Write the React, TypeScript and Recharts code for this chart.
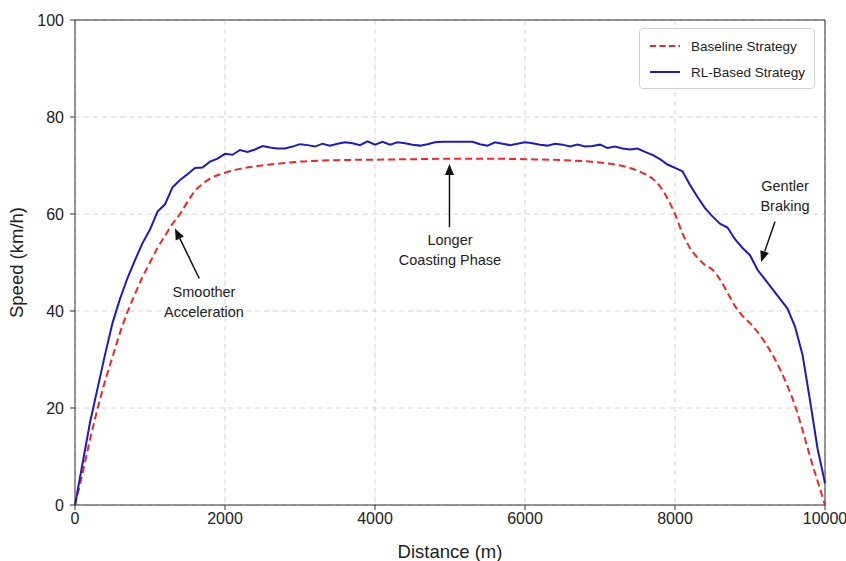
import React from "react";
import {
  LineChart,
  Line,
  XAxis,
  YAxis,
  CartesianGrid,
  ReferenceLine,
  ReferenceDot,
} from "recharts";

const FONT = "'Liberation Sans', Arial, sans-serif";

const xTicks = [0, 2000, 4000, 6000, 8000, 10000];
const yTicks = [0, 20, 40, 60, 80, 100];

const baselineDistance = [
  0, 100, 200, 300, 400, 500, 600, 700, 800, 900, 1000, 1100, 1200, 1300, 1400,
  1500, 1600, 1700, 1800, 1900, 2000, 2200, 2400, 2600, 2800, 3000, 3500, 4000,
  4500, 5000, 5500, 6000, 6500, 7000, 7200, 7400, 7600, 7700, 7800, 7900, 8000,
  8100, 8200, 8300, 8400, 8500, 8600, 8700, 8800, 8900, 9000, 9100, 9200, 9300,
  9400, 9500, 9600, 9700, 9800, 9900, 10000,
];
const baselineSpeed = [
  0, 6.5, 13.5, 19.8, 25.5, 30.5, 35.5, 39.8, 43.5, 47, 50, 53, 55.5, 58, 60,
  62.5, 64.8, 66.2, 67.3, 68, 68.5, 69.3, 69.8, 70.2, 70.5, 70.8, 71.1, 71.2,
  71.3, 71.4, 71.4, 71.3, 71.1, 70.6, 70.2, 69.5, 68.2, 67.3, 65.7, 63.2, 60,
  56, 53, 51, 49.5, 48.5, 46.5, 43.8, 41, 39, 37.5, 35.7, 33.5, 31, 28, 24.5,
  20.5, 15.5, 10, 5, 0,
];

const rlDistance = [
  0, 100, 200, 300, 400, 500, 600, 700, 800, 900, 1000, 1100, 1200, 1300, 1400,
  1500, 1600, 1700, 1800, 1900, 2000, 2100, 2200, 2300, 2400, 2500, 2600, 2700,
  2800, 2900, 3000, 3100, 3200, 3300, 3400, 3500, 3600, 3700, 3800, 3900, 4000,
  4100, 4200, 4300, 4400, 4500, 4600, 4700, 4800, 4900, 5000, 5100, 5200, 5300,
  5400, 5500, 5600, 5700, 5800, 5900, 6000, 6100, 6200, 6300, 6400, 6500, 6600,
  6700, 6800, 6900, 7000, 7100, 7200, 7300, 7400, 7500, 7600, 7700, 7800, 7900,
  8000, 8100, 8200, 8300, 8400, 8500, 8600, 8700, 8800, 8900, 9000, 9100, 9200,
  9300, 9400, 9500, 9600, 9700, 9800, 9900, 10000,
];
const rlSpeed = [
  0, 8.5, 17, 24, 31, 37.5, 42.5, 46.8, 50.5, 54, 56.8, 60.5, 62, 65.5, 67,
  68.2, 69.5, 69.6, 70.8, 71.4, 72.4, 72.2, 73.2, 72.8, 73.3, 74.0, 73.7, 73.5,
  73.5, 73.9, 74.4, 74.2, 73.9, 74.5, 74.1, 74.5, 74.8, 74.6, 74.2, 75.0, 74.3,
  74.9, 74.3, 74.8, 74.6, 74.3, 74.1, 74.4, 74.8, 74.9, 74.9, 74.9, 74.9, 74.9,
  74.4, 74.1, 74.8, 74.5, 74.2, 74.5, 74.8, 74.6, 74.3, 74.1, 74.5, 74.3, 73.9,
  74.3, 73.9, 74.0, 74.3, 73.6, 73.9, 73.5, 73.3, 73.5, 72.8, 72.2, 71.3, 70.2,
  69.5, 68.8, 66, 63.5, 61.2, 59.5, 58, 57.2, 54.8, 53, 51.5, 48.5, 46.5, 44.5,
  42.5, 40.5, 36.8, 31, 21.6, 11.7, 4.5,
];

const baselineData = baselineDistance.map((d, i) => ({ d, v: baselineSpeed[i] }));
const rlData = rlDistance.map((d, i) => ({ d, v: rlSpeed[i] }));

// annotation anchors in data units
const arrows = [
  { from: { x: 1657, y: 46.7 }, to: { x: 1333, y: 57.0 } },
  { from: { x: 4993, y: 57.3 }, to: { x: 4993, y: 70.3 } },
  { from: { x: 9333, y: 58.4 }, to: { x: 9147, y: 50.1 } },
];
const notes = [
  { x: 1720, y: 43.7, text: "Smoother" },
  { x: 1720, y: 39.6, text: "Acceleration" },
  { x: 5000, y: 54.4, text: "Longer" },
  { x: 5000, y: 50.3, text: "Coasting Phase" },
  { x: 9467, y: 65.6, text: "Gentler" },
  { x: 9467, y: 61.4, text: "Braking" },
];

const legendItems = [
  { name: "Baseline Strategy", color: "#ff2020", dash: "6 3.5" },
  { name: "RL-Based Strategy", color: "#1a1acc", dash: undefined },
];

const ArrowShape = (props: any) => {
  const { x1, y1, x2, y2 } = props;
  const ang = Math.atan2(y2 - y1, x2 - x1);
  const len = 11;
  const w = 4.5;
  const bx = x2 - len * Math.cos(ang);
  const by = y2 - len * Math.sin(ang);
  const px = -Math.sin(ang) * w;
  const py = Math.cos(ang) * w;
  return (
    <g>
      <line x1={x1} y1={y1} x2={bx} y2={by} stroke="#111" strokeWidth={1.5} />
      <polygon
        points={`${x2},${y2} ${bx + px},${by + py} ${bx - px},${by - py}`}
        fill="#111"
      />
    </g>
  );
};

const NoteShape = (text: string) => (props: any) => (
  <text
    x={props.cx}
    y={props.cy}
    textAnchor="middle"
    dominantBaseline="middle"
    fontFamily={FONT}
    fontSize={14.5}
    fill="#222"
  >
    {text}
  </text>
);

const LegendBox = () => (
  <div
    style={{
      position: "absolute",
      left: 639,
      top: 28,
      width: 176,
      height: 61,
      border: "1px solid #d0d0d0",
      borderRadius: 4,
      background: "rgba(255,255,255,0.9)",
      padding: "4px 10px",
      fontFamily: FONT,
      fontSize: 13.5,
      color: "#222",
      boxSizing: "border-box",
    }}
  >
    {legendItems.map((e) => (
      <div key={e.name} style={{ display: "flex", alignItems: "center", height: 26, whiteSpace: "nowrap" }}>
        <svg width={30} height={10} style={{ marginRight: 11, flexShrink: 0 }}>
          <line x1={0} y1={5} x2={30} y2={5} stroke={e.color} strokeWidth={2} strokeDasharray={e.dash} />
        </svg>
        <span>{e.name}</span>
      </div>
    ))}
  </div>
);

export default function App() {
  return (
    <div style={{ position: "absolute", left: 0, top: 0, width: 846, height: 561, background: "#fff" }}>
      <LineChart width={846} height={561} margin={{ top: 20, right: 21, bottom: 0, left: 0 }}>
        <CartesianGrid stroke="#d4d4d4" strokeDasharray="5 4" />
        <XAxis
          dataKey="d"
          type="number"
          domain={[0, 10000]}
          ticks={xTicks}
          allowDuplicatedCategory={false}
          height={56}
          tickSize={5}
          tickMargin={3}
          stroke="#333"
          tick={{ fontSize: 16, fill: "#222", fontFamily: FONT }}
          label={{
            value: "Distance (m)",
            position: "insideBottom",
            offset: 3,
            style: { fontSize: 18.5, fill: "#222", fontFamily: FONT },
          }}
        />
        <YAxis
          type="number"
          domain={[0, 100]}
          ticks={yTicks}
          width={75}
          tickSize={5}
          tickMargin={6}
          stroke="#333"
          tick={{ fontSize: 16, fill: "#222", fontFamily: FONT }}
          label={{
            value: "Speed (km/h)",
            angle: -90,
            position: "insideLeft",
            offset: 16,
            style: { fontSize: 18.5, fill: "#222", fontFamily: FONT, textAnchor: "middle" },
          }}
        />
        <ReferenceLine y={100} stroke="#333" strokeWidth={1} />
        <ReferenceLine x={10000} stroke="#333" strokeWidth={1} />
        <Line
          data={baselineData}
          dataKey="v"
          name="Baseline Strategy"
          type="monotone"
          stroke="#ff2020"
          strokeWidth={2}
          strokeDasharray="7 4"
          dot={false}
          isAnimationActive={false}
        />
        <Line
          data={rlData}
          dataKey="v"
          name="RL-Based Strategy"
          type="linear"
          stroke="#1a1acc"
          strokeWidth={2}
          dot={false}
          isAnimationActive={false}
        />
        {arrows.map((a, i) => (
          <ReferenceLine
            key={"a" + i}
            segment={[a.from, a.to]}
            shape={ArrowShape}
            ifOverflow="visible"
          />
        ))}
        {notes.map((n, i) => (
          <ReferenceDot key={"n" + i} x={n.x} y={n.y} r={0} shape={NoteShape(n.text)} />
        ))}
      </LineChart>
      <LegendBox />
    </div>
  );
}
